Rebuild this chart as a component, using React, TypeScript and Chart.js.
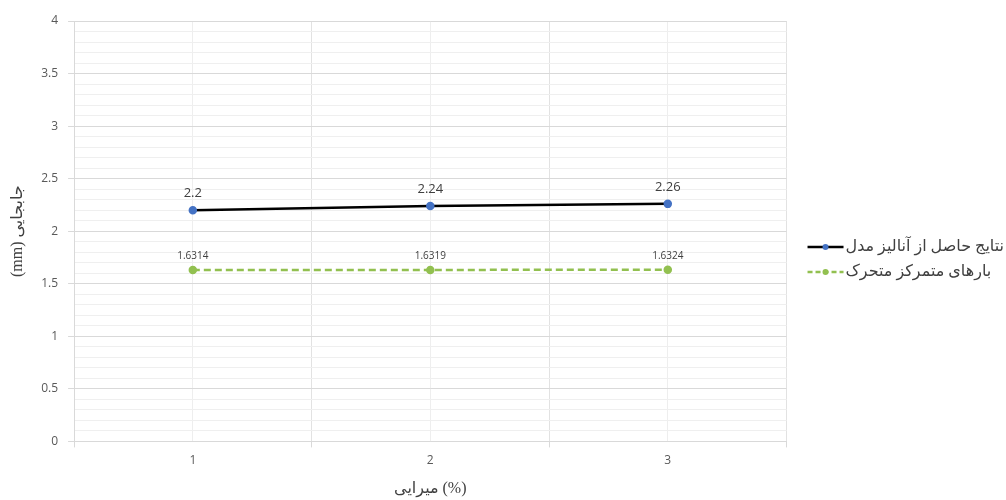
import React, { useEffect, useRef } from 'react';
import { Chart, registerables } from 'chart.js';

Chart.register(...registerables);

const categories = ['1', '2', '3'];
const xPositions = [1, 2, 3];
const modelValues = [2.2, 2.24, 2.26];
const loadValues = [1.6314, 1.6319, 1.6324];
const seriesNames = ['نتایج حاصل از آنالیز مدل', 'بارهای متمرکز متحرک'];
const xTitle = 'میرایی (%)';
const yTitle = '(mm) جابجایی';

const BLACK = '#000000';
const BLUE = '#4472C4';
const GREEN = '#92C050';
const LEGEND_BOX = 50;

const isHalf = (v: number) => Math.abs(v * 2 - Math.round(v * 2)) < 1e-6;

const dataLabelPlugin = {
  id: 'dataLabels',
  afterDatasetsDraw(chart: any) {
    const ctx = chart.ctx;
    chart.data.datasets.forEach((ds: any, i: number) => {
      const meta = chart.getDatasetMeta(i);
      ctx.save();
      ctx.fillStyle = '#404040';
      ctx.font = `${ds.labelSize}px "Open Sans", "DejaVu Sans", sans-serif`;
      ctx.textAlign = 'center';
      ctx.textBaseline = 'bottom';
      meta.data.forEach((pt: any, j: number) => {
        ctx.fillText(String(ds.data[j].y), pt.x, pt.y - ds.labelOffset);
      });
      ctx.restore();
    });
  },
};

// draws the line-with-marker sample of each legend entry just left of its text
const legendSamplePlugin = {
  id: 'legendSamples',
  afterDraw(chart: any) {
    const lg = chart.legend;
    if (!lg || !lg.legendHitBoxes) return;
    const ctx = chart.ctx;
    lg.legendHitBoxes.forEach((hb: any, i: number) => {
      const ds = chart.data.datasets[i];
      const x1 = hb.left + LEGEND_BOX + 6;
      const x0 = x1 - 36;
      const y = hb.top + hb.height / 2;
      ctx.save();
      ctx.strokeStyle = ds.borderColor;
      ctx.lineWidth = 2.5;
      ctx.setLineDash(ds.borderDash ? [5, 3] : []);
      ctx.beginPath();
      ctx.moveTo(x0, y);
      ctx.lineTo(x1, y);
      ctx.stroke();
      ctx.setLineDash([]);
      ctx.fillStyle = ds.pointBackgroundColor;
      ctx.beginPath();
      ctx.arc((x0 + x1) / 2, y, 3, 0, Math.PI * 2);
      ctx.fill();
      ctx.restore();
    });
  },
};

export default function App() {
  const ref = useRef<HTMLCanvasElement>(null);
  useEffect(() => {
    document.body.style.margin = '0';
    const chart = new Chart(ref.current!, {
      type: 'line',
      data: {
        datasets: [
          {
            label: seriesNames[0],
            data: xPositions.map((x, i) => ({ x, y: modelValues[i] })),
            borderColor: BLACK,
            borderWidth: 2.5,
            pointBackgroundColor: BLUE,
            pointBorderColor: BLUE,
            pointRadius: 3,
            labelSize: 13,
            labelOffset: 10,
          } as any,
          {
            label: seriesNames[1],
            data: xPositions.map((x, i) => ({ x, y: loadValues[i] })),
            borderColor: GREEN,
            borderWidth: 2.5,
            borderDash: [7, 4],
            pointBackgroundColor: GREEN,
            pointBorderColor: GREEN,
            pointRadius: 3,
            labelSize: 10,
            labelOffset: 9,
          } as any,
        ],
      },
      options: {
        animation: false,
        responsive: false,
        layout: { padding: { top: 21, right: -8, left: 8, bottom: 2 } },
        plugins: {
          tooltip: { enabled: false },
          legend: {
            position: 'right',
            labels: {
              boxWidth: LEGEND_BOX,
              boxHeight: 24,
              color: '#404040',
              font: { size: 16, family: '"Liberation Serif", "DejaVu Sans", serif' },
              padding: 1,
              generateLabels: (c: any) =>
                c.data.datasets.map((ds: any, i: number) => ({
                  text: ds.label,
                  fillStyle: 'rgba(0,0,0,0)',
                  strokeStyle: 'rgba(0,0,0,0)',
                  lineWidth: 0,
                  datasetIndex: i,
                  fontColor: '#404040',
                })),
            },
          },
        },
        scales: {
          x: {
            type: 'linear',
            min: 0.5,
            max: 3.5,
            ticks: {
              stepSize: 0.5,
              autoSkip: false,
              maxRotation: 0,
              color: '#595959',
              font: { size: 12, family: '"Open Sans", "DejaVu Sans", sans-serif' },
              padding: 6,
              callback: (v: any) => {
                const idx = xPositions.indexOf(Number(v));
                return idx >= 0 ? categories[idx] : '';
              },
            },
            grid: {
              color: (c: any) => (Number.isInteger(c.tick?.value) ? '#eeeeee' : '#e2e2e2'),
              tickColor: (c: any) => (Number.isInteger(c.tick?.value) ? 'rgba(0,0,0,0)' : '#d9d9d9'),
              tickLength: 6,
            },
            border: { color: '#d9d9d9' },
            title: {
              display: true,
              text: xTitle,
              color: '#404040',
              font: { size: 16, family: '"Liberation Serif", "DejaVu Sans", serif' },
              padding: { top: 5, bottom: 0 },
            },
          },
          y: {
            min: 0,
            max: 4,
            ticks: {
              stepSize: 0.1,
              autoSkip: false,
              color: '#595959',
              font: { size: 12, family: '"Open Sans", "DejaVu Sans", sans-serif' },
              padding: 10,
              callback: (v: any) => (isHalf(Number(v)) ? String(Math.round(Number(v) * 2) / 2) : ''),
            },
            grid: {
              color: (c: any) => (isHalf(c.tick?.value ?? 0) ? '#d9d9d9' : '#efefef'),
              tickColor: (c: any) => (isHalf(c.tick?.value ?? 0) ? '#d9d9d9' : 'rgba(0,0,0,0)'),
              tickLength: 6,
            },
            border: { color: '#d9d9d9' },
            title: {
              display: true,
              text: yTitle,
              color: '#404040',
              font: { size: 16, family: '"Liberation Serif", "DejaVu Sans", serif' },
              padding: { top: 0, bottom: 4 },
            },
          },
        },
      },
      plugins: [dataLabelPlugin, legendSamplePlugin],
    });
    return () => chart.destroy();
  }, []);
  return (
    <div style={{ width: 1006, height: 500 }}>
      <canvas ref={ref} width={1006} height={500} />
    </div>
  );
}
